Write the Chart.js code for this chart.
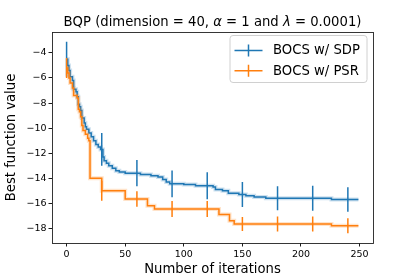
<!DOCTYPE html>
<html>
<head>
<meta charset="utf-8">
<script src="https://cdn.jsdelivr.net/npm/chart.js@4.4.1/dist/chart.umd.min.js"></script>
<style>
  html, body { margin: 0; padding: 0; background: #fff; }
  #wrap { width: 415px; height: 277px; }
</style>
</head>
<body>
<div id="wrap"><canvas id="grafico" width="415" height="277"></canvas></div>
<script>
// best value found so far (step curves)
const sdpIter = [0, 1, 2, 3, 5, 6, 8, 9, 10, 11, 12, 13, 15, 16, 17, 19, 21, 23, 25, 27, 29, 31, 32, 34, 36, 39, 42, 45, 50, 63, 72, 78, 82, 85, 88, 100, 110, 125, 127, 133, 138, 147, 153, 160, 170, 226, 249];
const sdpBest = [-4.5, -5.0, -5.4, -5.9, -6.2, -6.9, -7.1, -7.5, -8.1, -8.3, -8.6, -9.2, -9.6, -9.9, -10.1, -10.4, -10.7, -11.0, -11.3, -11.5, -11.7, -12.3, -12.6, -12.8, -13.0, -13.2, -13.4, -13.5, -13.6, -13.7, -13.8, -13.9, -14.1, -14.3, -14.45, -14.5, -14.6, -14.7, -14.9, -15.0, -15.2, -15.3, -15.4, -15.5, -15.6, -15.7, -15.7];

const psrIter = [0, 1, 2, 3, 5, 6, 9, 10, 11, 12, 13, 14, 16, 18, 19, 20, 30, 50, 69, 75, 130, 139, 143, 226, 249];
const psrBest = [-5.2, -5.6, -6.0, -6.4, -6.8, -7.4, -7.6, -8.5, -8.7, -9.1, -9.8, -10.2, -10.5, -10.8, -11.0, -14.0, -15.0, -15.65, -16.2, -16.45, -16.9, -17.4, -17.65, -17.8, -17.8];

// error bars every 30 iterations
const barIter = [0, 30, 60, 90, 120, 150, 180, 210, 240];
const sdpErr = [1.4, 1.3, 1.05, 1.07, 1.07, 1.0, 0.96, 1.0, 0.98];
const psrErr = [0.8, 0.8, 0.62, 0.64, 0.64, 0.56, 0.6, 0.6, 0.6];

const xTicks = [0, 50, 100, 150, 200, 250];
const yTicks = [-4, -6, -8, -10, -12, -14, -16, -18];

const azul = '#1f77b4';
const laranja = '#ff7f0e';
const fonte = "'DejaVu Sans'";

// titulo com alfa e lambda em italico (como o mathtext)
const titulo = [
    {t: 'BQP (dimension = 40, ', it: false},
    {t: '\u03b1', it: true},
    {t: ' = 1 and ', it: false},
    {t: '\u03bb', it: true},
    {t: ' = 0.0001)', it: false}
];

function pontos(iters, valores){
    return iters.map((it, k) => ({x: it, y: valores[k]}));
};

function valorEm(iters, valores, it){
    let v = valores[0];
    iters.forEach((p, k) => { if (p <= it) v = valores[k]; });
    return v;
};

function barras(iters, valores, erros){
    let dados = [];
    barIter.forEach((it, k) => {
        let m = valorEm(iters, valores, it);
        dados.push({x: it, y: m - erros[k]});
        dados.push({x: it, y: m + erros[k]});
        dados.push({x: it, y: null});
    });
    return dados;
};

function menos(v){
    return v < 0 ? '\u2212' + Math.abs(v) : '' + v;
};

// moldura dos eixos (4 lados)
const moldura = {
    id: 'moldura',
    afterDatasetsDraw(chart){
        const {ctx, chartArea: a} = chart;
        ctx.save();
        ctx.strokeStyle = '#222';
        ctx.lineWidth = 0.9;
        ctx.strokeRect(Math.round(a.left) + 0.5, Math.round(a.top) + 0.5, Math.round(a.right - a.left), Math.round(a.bottom - a.top));
        ctx.restore();
    }
};

const cabecalho = {
    id: 'cabecalho',
    afterDraw(chart){
        const {ctx, chartArea: a} = chart;
        ctx.save();
        ctx.fillStyle = '#000';
        ctx.textBaseline = 'middle';
        ctx.textAlign = 'left';
        const normal = '13.2px ' + fonte;
        const italico = 'italic 13.2px ' + fonte;
        let total = 0;
        titulo.forEach(p => { ctx.font = p.it ? italico : normal; total += ctx.measureText(p.t).width; });
        let x = (a.left + a.right) / 2 - total / 2;
        titulo.forEach(p => {
            ctx.font = p.it ? italico : normal;
            ctx.fillText(p.t, x, 22.7);
            x += ctx.measureText(p.t).width;
        });
        ctx.restore();
    }
};

// legenda estilo matplotlib (canto superior direito)
const legenda = {
    id: 'legenda',
    afterDraw(chart){
        const {ctx, chartArea: a} = chart;
        const itens = [
            {texto: chart.data.datasets[1].label, cor: azul},
            {texto: chart.data.datasets[4].label, cor: laranja}
        ];
        const w = 137, h = 47;
        const x0 = a.right - 6.5 - w, y0 = a.top + 3;
        ctx.save();
        ctx.beginPath();
        ctx.roundRect(x0 + 0.5, y0 + 0.5, w, h, 3);
        ctx.fillStyle = 'rgba(255,255,255,0.8)';
        ctx.fill();
        ctx.strokeStyle = '#d0d0d0';
        ctx.lineWidth = 1;
        ctx.stroke();
        ctx.font = '13.2px ' + fonte;
        ctx.textBaseline = 'middle';
        ctx.textAlign = 'left';
        itens.forEach((item, k) => {
            const y = y0 + 15.5 + k * 20.3;
            ctx.strokeStyle = item.cor;
            ctx.lineWidth = 1.5;
            ctx.beginPath();
            ctx.moveTo(x0 + 5, y);
            ctx.lineTo(x0 + 33, y);
            ctx.moveTo(x0 + 19, y - 6);
            ctx.lineTo(x0 + 19, y + 6);
            ctx.stroke();
            ctx.fillStyle = '#000';
            ctx.fillText(item.texto, x0 + 43.5, y + 0.5);
        });
        ctx.restore();
    }
};

const grafico = document.getElementById('grafico');
const graficoBocs = new Chart(grafico, {
    type: 'line',
    data: {
        datasets: [
            {
                label: 'halo SDP',
                data: pontos(sdpIter, sdpBest),
                stepped: 'before',
                borderColor: 'rgba(31,119,180,0.22)',
                borderWidth: 4,
                pointRadius: 0,
                order: 5
            },
            {
                label: 'BOCS w/ SDP',
                data: pontos(sdpIter, sdpBest),
                stepped: 'before',
                borderColor: azul,
                borderWidth: 1.5,
                pointRadius: 0,
                order: 4
            },
            {
                label: 'erro SDP',
                data: barras(sdpIter, sdpBest, sdpErr),
                borderColor: azul,
                borderWidth: 1.5,
                pointRadius: 0,
                spanGaps: false,
                order: 3
            },
            {
                label: 'halo PSR',
                data: pontos(psrIter, psrBest),
                stepped: 'before',
                borderColor: 'rgba(255,127,14,0.22)',
                borderWidth: 4,
                pointRadius: 0,
                order: 2
            },
            {
                label: 'BOCS w/ PSR',
                data: pontos(psrIter, psrBest),
                stepped: 'before',
                borderColor: laranja,
                borderWidth: 1.5,
                pointRadius: 0,
                order: 1
            },
            {
                label: 'erro PSR',
                data: barras(psrIter, psrBest, psrErr),
                borderColor: laranja,
                borderWidth: 1.5,
                pointRadius: 0,
                spanGaps: false,
                order: 0
            }
        ]
    },
    options: {
        responsive: false,
        animation: false,
        layout: { padding: { left: 0, right: 42, top: 32, bottom: 0 } },
        plugins: {
            legend: { display: false },
            tooltip: { enabled: false },
            title: { display: false }
        },
        scales: {
            x: {
                type: 'linear',
                min: -12.45,
                max: 261.45,
                afterBuildTicks: (scale) => { scale.ticks = xTicks.map(v => ({value: v})); },
                afterFit: (scale) => { scale.height = 34; },
                grid: { drawOnChartArea: false, drawTicks: true, tickLength: 3.5, tickColor: '#000', tickWidth: 0.9 },
                border: { display: false },
                ticks: { color: '#000', font: { family: fonte, size: 9.5 }, padding: 2, maxRotation: 0, autoSkip: false },
                title: {
                    display: true,
                    text: 'Number of iterations',
                    color: '#000',
                    font: { family: fonte, size: 13.2 },
                    padding: { top: 0, bottom: 0 }
                }
            },
            y: {
                type: 'linear',
                min: -19.17,
                max: -2.33,
                afterBuildTicks: (scale) => { scale.ticks = yTicks.map(v => ({value: v})); },
                afterFit: (scale) => { scale.width = 52; },
                grid: { drawOnChartArea: false, drawTicks: true, tickLength: 3.5, tickColor: '#000', tickWidth: 0.9 },
                border: { display: false },
                ticks: { color: '#000', font: { family: fonte, size: 9.5 }, padding: 2, autoSkip: false, callback: (v) => menos(v) },
                title: {
                    display: true,
                    text: 'Best function value',
                    color: '#000',
                    font: { family: fonte, size: 13.2 },
                    padding: { top: 4, bottom: 0 }
                }
            }
        }
    },
    plugins: [moldura, cabecalho, legenda]
});
</script>
</body>
</html>
